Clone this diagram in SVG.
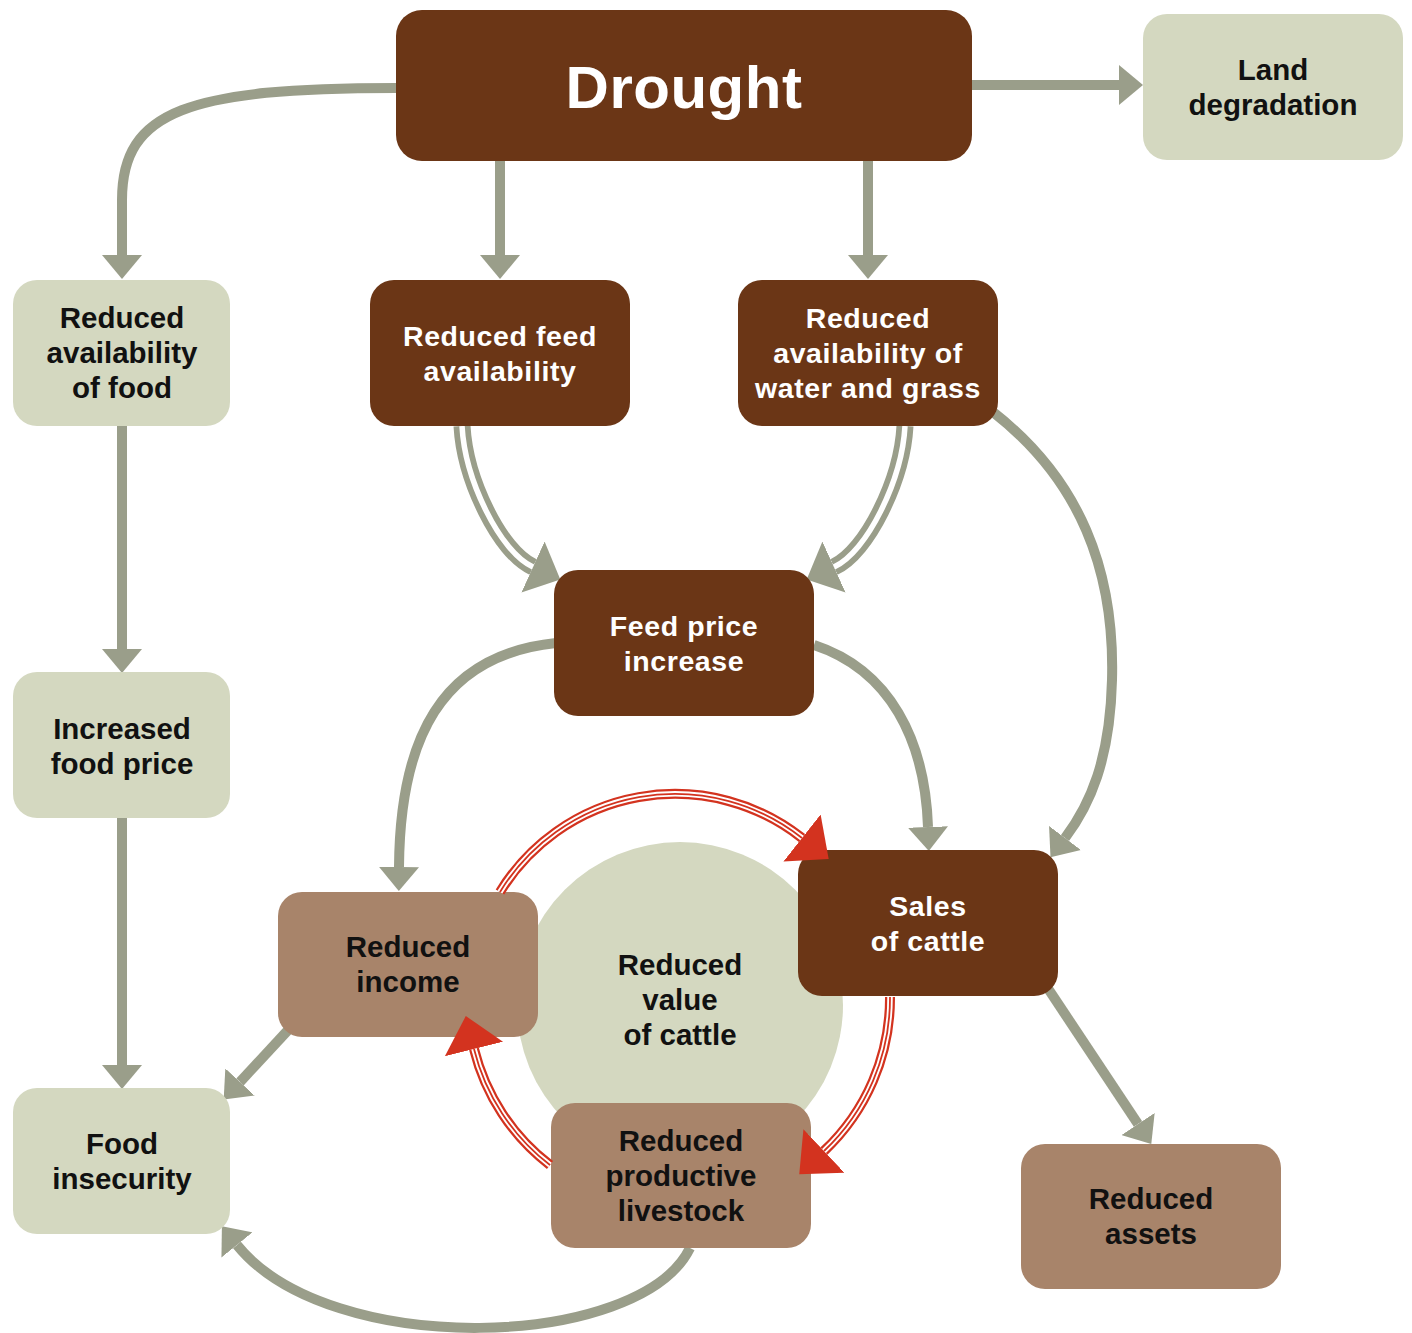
<svg xmlns="http://www.w3.org/2000/svg" width="1412" height="1333" viewBox="0 0 1412 1333">
<style>
.dark{fill:#6b3616}
.light{fill:#a8846a}
.pale{fill:#d4d8c0}
.tw{fill:#ffffff;font-family:"Liberation Sans",Arial,sans-serif;font-weight:bold;font-size:28.5px;letter-spacing:0.6px;text-anchor:middle}
.tb{fill:#111111;font-family:"Liberation Sans",Arial,sans-serif;font-weight:bold;font-size:29.5px;text-anchor:middle}
.g{fill:none;stroke:#9a9e8a;stroke-width:10}
.gd{fill:none;stroke:#9a9e8a;stroke-width:17}
.gdi{fill:none;stroke:#ffffff;stroke-width:5.5}
.r{fill:none;stroke:#d3331f;stroke-width:10}
.ri{fill:none;stroke:#ffffff;stroke-width:5.5}
.rc{fill:none;stroke:#d3331f;stroke-width:1.8}
</style>
<defs>
<marker id="ag" markerUnits="userSpaceOnUse" markerWidth="24" markerHeight="40" viewBox="0 0 24 40" refX="0" refY="20" orient="auto"><path d="M0,0 L24,20 L0,40 z" fill="#9a9e8a"/></marker>
<marker id="agb" markerUnits="userSpaceOnUse" markerWidth="30" markerHeight="56" viewBox="0 0 30 56" refX="0" refY="28" orient="auto"><path d="M0,0 L30,28 L0,56 z" fill="#9a9e8a"/></marker>
<marker id="ar" markerUnits="userSpaceOnUse" markerWidth="34" markerHeight="60" viewBox="0 0 34 60" refX="0" refY="30" orient="auto"><path d="M0,0 L34,30 L0,60 z" fill="#d3331f"/></marker>
</defs>
<rect width="1412" height="1333" fill="#ffffff"/>
<g id="value-of-cattle">
<circle cx="680" cy="1005" r="163" class="pale"/>
<text class="tb" x="680" y="975">Reduced</text>
<text class="tb" x="680" y="1010">value</text>
<text class="tb" x="680" y="1045">of cattle</text>
</g>
<g id="connectors">
<path class="g" d="M396,88 C190,88 122,110 122,200 L122,255" marker-end="url(#ag)"/>
<path class="g" d="M500,161 V255" marker-end="url(#ag)"/>
<path class="g" d="M868,161 V255" marker-end="url(#ag)"/>
<path class="g" d="M972,85 H1119" marker-end="url(#ag)"/>
<path class="g" d="M122,426 V649" marker-end="url(#ag)"/>
<path class="g" d="M122,818 V1065" marker-end="url(#ag)"/>
<path class="g" d="M290,1028 L240,1082" marker-end="url(#ag)"/>
<path class="g" d="M556,643 C440,655 400,740 399,867" marker-end="url(#ag)"/>
<path class="g" d="M814,645 C890,670 925,740 928,827" marker-end="url(#ag)"/>
<path class="g" d="M993,412 C1080,480 1115,570 1112,680 C1110,760 1090,805 1065,838" marker-end="url(#ag)"/>
<path class="g" d="M1047,987 L1138,1124" marker-end="url(#ag)"/>
<path class="g" d="M690,1248 C640,1350 330,1360 237,1245" marker-end="url(#ag)"/>
<path class="gd" d="M462,426 C465,480 500,552 533,567" marker-end="url(#agb)"/>
<path class="gdi" d="M462,426 C465,480 500,552 533,567"/>
<path class="gd" d="M905,426 C902,480 867,552 834,567" marker-end="url(#agb)"/>
<path class="gdi" d="M905,426 C902,480 867,552 834,567"/>
</g>
<g id="drought"><rect x="396" y="10" width="576" height="151" rx="26" class="dark"/><text class="tw" x="684" y="108" style="font-size:60px;letter-spacing:0.5px">Drought</text></g>
<g id="land-degradation"><rect x="1143" y="14" width="260" height="146" rx="24" class="pale"/><text class="tb" x="1273" y="80">Land</text><text class="tb" x="1273" y="115">degradation</text></g>
<g id="reduced-food"><rect x="13" y="280" width="217" height="146" rx="24" class="pale"/><text class="tb" x="122" y="328">Reduced</text><text class="tb" x="122" y="363">availability</text><text class="tb" x="122" y="398">of food</text></g>
<g id="reduced-feed"><rect x="370" y="280" width="260" height="146" rx="24" class="dark"/><text class="tw" x="500" y="346">Reduced feed</text><text class="tw" x="500" y="381">availability</text></g>
<g id="reduced-water"><rect x="738" y="280" width="260" height="146" rx="24" class="dark"/><text class="tw" x="868" y="328">Reduced</text><text class="tw" x="868" y="363">availability of</text><text class="tw" x="868" y="398">water and grass</text></g>
<g id="feed-price"><rect x="554" y="570" width="260" height="146" rx="24" class="dark"/><text class="tw" x="684" y="636">Feed price</text><text class="tw" x="684" y="671">increase</text></g>
<g id="increased-food-price"><rect x="13" y="672" width="217" height="146" rx="24" class="pale"/><text class="tb" x="122" y="739">Increased</text><text class="tb" x="122" y="774">food price</text></g>
<g id="reduced-income"><rect x="278" y="892" width="260" height="145" rx="24" class="light"/><text class="tb" x="408" y="957">Reduced</text><text class="tb" x="408" y="992">income</text></g>
<g id="sales-of-cattle"><rect x="798" y="850" width="260" height="146" rx="24" class="dark"/><text class="tw" x="928" y="916">Sales</text><text class="tw" x="928" y="951">of cattle</text></g>
<g id="food-insecurity"><rect x="13" y="1088" width="217" height="146" rx="24" class="pale"/><text class="tb" x="122" y="1154">Food</text><text class="tb" x="122" y="1189">insecurity</text></g>
<g id="reduced-livestock"><rect x="551" y="1103" width="260" height="145" rx="24" class="light"/><text class="tb" x="681" y="1151">Reduced</text><text class="tb" x="681" y="1186">productive</text><text class="tb" x="681" y="1221">livestock</text></g>
<g id="reduced-assets"><rect x="1021" y="1144" width="260" height="145" rx="24" class="light"/><text class="tb" x="1151" y="1209">Reduced</text><text class="tb" x="1151" y="1244">assets</text></g>
<g id="cycle-connectors">
<path class="r" d="M500,892 A205,205 0 0 1 802,838" marker-end="url(#ar)"/>
<path class="ri" d="M500,892 A205,205 0 0 1 802,838"/>
<path class="rc" d="M500,892 A205,205 0 0 1 802,838"/>
<path class="r" d="M890,997 A210,210 0 0 1 824,1151" marker-end="url(#ar)"/>
<path class="ri" d="M890,997 A210,210 0 0 1 824,1151"/>
<path class="rc" d="M890,997 A210,210 0 0 1 824,1151"/>
<path class="r" d="M550,1165 A210,210 0 0 1 474,1049" marker-end="url(#ar)"/>
<path class="ri" d="M550,1165 A210,210 0 0 1 474,1049"/>
<path class="rc" d="M550,1165 A210,210 0 0 1 474,1049"/>
</g>
</svg>
